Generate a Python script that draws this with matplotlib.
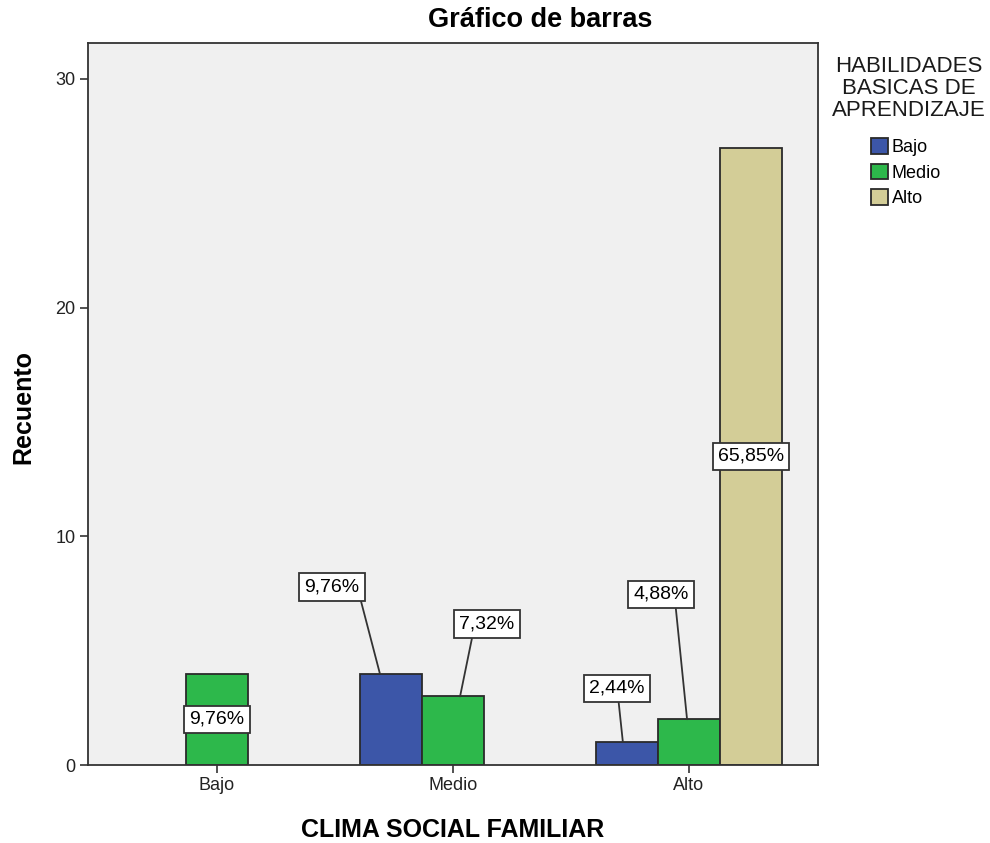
import matplotlib
matplotlib.use("Agg")
import matplotlib.pyplot as plt
from matplotlib.patches import Patch
import numpy as np

plt.rcParams["font.family"] = ["Liberation Sans", "DejaVu Sans"]

# ── Data ──────────────────────────────────────────────────────────────────────
categories = ["Bajo", "Medio", "Alto"]            # CLIMA SOCIAL FAMILIAR
series = ["Bajo", "Medio", "Alto"]                # HABILIDADES BASICAS DE APRENDIZAJE
counts = {
    "Bajo":  [0, 4, 1],
    "Medio": [4, 3, 2],
    "Alto":  [0, 0, 27],
}
pct_labels = {
    "Bajo":  [None, "9,76%", "2,44%"],
    "Medio": ["9,76%", "7,32%", "4,88%"],
    "Alto":  [None, None, "65,85%"],
}

COLOURS = {"Bajo": "#3c56a8", "Medio": "#2db84b", "Alto": "#d3cd97"}
EDGE = "#2a2a2a"

# label layout: (series, category) -> (text dx, text y, leader end dx, relpos x)
# labels not listed here sit in the middle of their bar
label_layout = {
    ("Bajo", 1): (-0.25, 7.78, -0.047, 1.0),
    ("Medio", 1): (0.144, 6.17, 0.03, 0.25),
    ("Bajo", 2): (-0.042, 3.35, -0.017, 0.52),
    ("Medio", 2): (-0.119, 7.46, -0.008, 0.76),
}

fig = plt.figure(figsize=(9.9, 8.43), dpi=100)
ax = fig.add_axes([88 / 990, 78 / 843, 730 / 990, 722 / 843])
ax.set_facecolor("#f0f0f0")

x = np.arange(len(categories))
width = 0.263
offsets = {"Bajo": -1, "Medio": 0, "Alto": 1}

for s in series:
    vals = np.array(counts[s], dtype=float)
    xs = x + offsets[s] * width
    for i, v in enumerate(vals):
        if v <= 0:
            continue
        ax.bar(xs[i], v, width=width, color=COLOURS[s], edgecolor=EDGE, linewidth=1.3, zorder=2)
        lab = pct_labels[s][i]
        if lab is None:
            continue
        bbox = dict(boxstyle="square,pad=0.27", fc="white", ec="#333333", lw=1.3)
        key = (s, i)
        if key in label_layout:
            dx, ty, ex, rx = label_layout[key]
            ax.annotate(lab, xy=(xs[i] + ex, v), xytext=(xs[i] + dx, ty),
                        ha="center", va="center", fontsize=14, bbox=bbox, zorder=4,
                        arrowprops=dict(arrowstyle="-", color="#333333", lw=1.3,
                                        relpos=(rx, 0), shrinkA=0, shrinkB=0))
        else:
            ax.text(xs[i], v / 2, lab, ha="center", va="center",
                    fontsize=14, bbox=bbox, zorder=4)

ax.set_xlim(-0.547, 2.547)
ax.set_ylim(0, 31.57)
ax.set_xticks(x)
ax.set_xticklabels(categories)
ax.set_yticks([0, 10, 20, 30])
ax.tick_params(axis="both", direction="out", length=6, width=1.2, color="#333333",
               labelsize=13, labelcolor="#222222", pad=3)
for sp in ax.spines.values():
    sp.set_color("#333333")
    sp.set_linewidth(1.3)

fig.text(540 / 990, 1 - 20 / 843, "Gráfico de barras", ha="center", va="center",
         fontsize=19.5, fontweight="bold")
fig.text(453 / 990, 1 - 830 / 843, "CLIMA SOCIAL FAMILIAR", ha="center", va="center",
         fontsize=18, fontweight="bold")
fig.text(23 / 990, 1 - 407 / 843, "Recuento", ha="center", va="center",
         rotation=90, fontsize=18, fontweight="bold")

# legend
fig.text(909 / 990, 1 - 56 / 843, "HABILIDADES\nBASICAS DE\nAPRENDIZAJE", ha="center", va="top",
         fontsize=16, linespacing=1.07, color="#1a1a1a")
handles = [Patch(facecolor=COLOURS[s], edgecolor=EDGE, linewidth=1.3, label=s) for s in series]
fig.legend(handles=handles, loc="upper left", bbox_to_anchor=(871 / 990, 1 - 138 / 843),
           frameon=False, fontsize=13, handlelength=0.95, handleheight=0.95,
           handletextpad=0.2, labelspacing=0.42, borderpad=0, borderaxespad=0)

fig.savefig("out.png", dpi=100)
